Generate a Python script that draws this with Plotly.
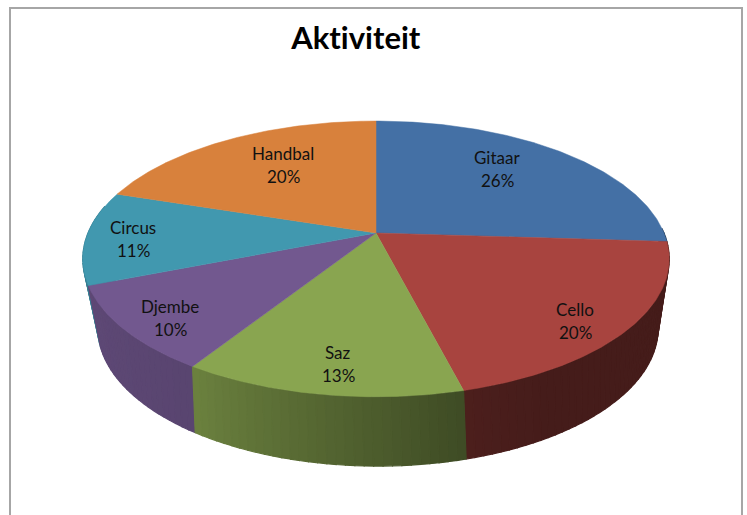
import numpy as np
import plotly.graph_objects as go

# --- data ---
categories = ["Gitaar", "Cello", "Saz", "Djembe", "Circus", "Handbal"]
values = [26, 20, 13, 10, 11, 20]
colors = ["#4470A5", "#A8443F", "#89A550", "#72588F", "#4198AF", "#D8813C"]
title = "Aktiviteit"

# --- label centres in the page (px) ---
label_x = [497, 575, 338, 170, 133, 283]
label_y = [157, 309, 352, 306, 227, 153]
LINE_GAP = 23

# --- perspective projection of the pie disc: upper face and lower rim ---
TOP = dict(cx=376, cy=233, b=288, a=133, k=0.188)
BOTTOM = dict(cx=378, cy=295, b=272, a=130, k=0.24)


def project(theta_deg, p):
    t = np.radians(theta_deg)
    u, v = np.sin(t), np.cos(t)
    d = 1 + p["k"] * v
    return p["cx"] + p["b"] * u / d, p["cy"] - p["a"] * v / d


def shade(theta):
    """Brightness of the pie's rim by angle (lit from the left)."""
    return np.interp(theta, [80, 150, 165, 212, 270, 300],
                     [0.41, 0.41, 0.45, 0.78, 0.85, 0.85])


def darker(hex_color, f):
    r, g, b = (int(hex_color[i:i + 2], 16) for i in (1, 3, 5))
    return f"rgb({r * f:.0f},{g * f:.0f},{b * f:.0f})"


fig = go.Figure()


def add_poly(xs, ys, color, line_width=0.0):
    fig.add_trace(go.Scatter(
        x=list(xs), y=list(ys), mode="lines", fill="toself", fillcolor=color,
        line=dict(color=color, width=line_width),
        hoverinfo="skip", showlegend=False))


edges = np.concatenate([[0], np.cumsum(values)]) / sum(values) * 360

# rim, only the part that faces the viewer, drawn back to front
quads = []
for i, c in enumerate(colors):
    a0, a1 = max(edges[i], 88), min(edges[i + 1], 282)
    if a1 <= a0:
        continue
    n = max(2, int((a1 - a0) / 1.5))
    ts = np.linspace(a0, a1, n + 1)
    for t0, t1 in zip(ts[:-1], ts[1:]):
        quads.append((t0, t1, c))
quads.sort(key=lambda q: np.cos(np.radians((q[0] + q[1]) / 2)), reverse=True)
for t0, t1, c in quads:
    x0, y0 = project(t0, TOP)
    x1, y1 = project(t1, TOP)
    x2, y2 = project(t1, BOTTOM)
    x3, y3 = project(t0, BOTTOM)
    add_poly([x0, x1, x2, x3, x0], [y0, y1, y2, y3, y0],
             darker(c, float(shade((t0 + t1) / 2))), line_width=1.2)

# top face
for i, c in enumerate(colors):
    ts = np.linspace(edges[i], edges[i + 1], 120)
    ax, ay = project(ts, TOP)
    add_poly(np.r_[TOP["cx"], ax, TOP["cx"]], np.r_[TOP["cy"], ay, TOP["cy"]], c, line_width=0.5)

annotations = [dict(x=355, y=37, text=f"<b>{title}</b>", showarrow=False,
                    font=dict(family="Lato", size=31, color="#000000"),
                    xanchor="center", yanchor="middle")]
for name, v, lx, ly in zip(categories, values, label_x, label_y):
    for text, yy in ((name, ly), (f"{v}%", ly + LINE_GAP)):
        annotations.append(dict(x=lx, y=yy, text=text, showarrow=False,
                                font=dict(family="Lato", size=17, color="#111111"),
                                xanchor="center", yanchor="middle"))

frame = "M 10 515 L 10 8 L 742 8 L 742 515"
fig.update_layout(
    width=747, height=515,
    margin=dict(l=0, r=0, t=0, b=0),
    paper_bgcolor="#FFFFFF", plot_bgcolor="#FFFFFF",
    xaxis=dict(range=[0, 747], visible=False, fixedrange=True),
    yaxis=dict(range=[515, 0], visible=False, fixedrange=True),
    annotations=annotations,
    shapes=[dict(type="path", path=frame, line=dict(color="#A6A6A6", width=2), layer="below")],
)
page_css = ("document.body.style.margin='0';document.body.style.overflow='hidden';"
            "document.head.insertAdjacentHTML('beforeend',"
            "'<style>text{font-variant-ligatures:none !important;"
            "font-feature-settings:\"liga\" 0,\"clig\" 0 !important}</style>');")
fig.write_html("out.html", config={"displayModeBar": False}, post_script=page_css)
